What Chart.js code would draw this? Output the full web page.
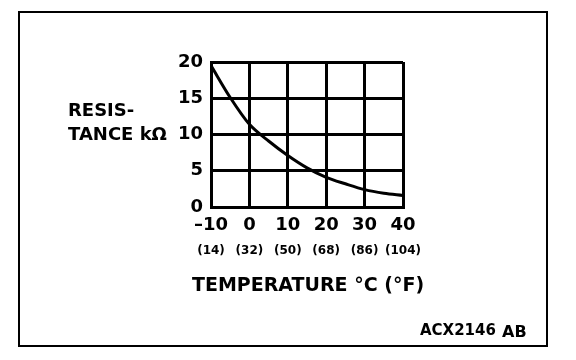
<!DOCTYPE html>
<html>
<head>
<meta charset="utf-8">
<script src="https://cdn.jsdelivr.net/npm/chart.js@4"></script>
<style>
  html, body { margin: 0; padding: 0; background: #fff; }
</style>
</head>
<body>
<canvas id="myChart" width="576" height="360"></canvas>
<script>
// temperature (deg C) and resistance (kOhm)
const tempC = [-10, -5, 0, 5, 10, 15, 20, 25, 30, 35, 40];
const resistance = [19.5, 15.1, 11.4, 9.1, 7.1, 5.4, 4.1, 3.2, 2.4, 1.9, 1.6];

const tickC = [-10, 0, 10, 20, 30, 40];
const xLabelsC = ['\u201310', '0', '10', '20', '30', '40'];
const xLabelsF = ['(14)', '(32)', '(50)', '(68)', '(86)', '(104)'];
const yLabels = ['0', '5', '10', '15', '20'];
const xTitle = 'TEMPERATURE \u00B0C (\u00B0F)';

const fontFam = "'DejaVu Sans', Verdana, sans-serif";

const points = tempC.map((t, i) => ({ x: t, y: resistance[i] }));

// frame, y title, x title and figure code (axis title would get squeezed to the axis width)
const framePlugin = {
    id: 'frame',
    afterDraw(chart) {
        const ctx = chart.ctx;
        const area = chart.chartArea;
        ctx.save();
        ctx.strokeStyle = '#000';
        ctx.lineWidth = 2;
        ctx.strokeRect(19, 12, 528, 334);
        ctx.fillStyle = '#000';
        ctx.textBaseline = 'middle';
        ctx.textAlign = 'left';
        ctx.font = 'bold 18px ' + fontFam;
        ctx.fillText('RESIS-', 68, 111);
        ctx.fillText('TANCE k\u03A9', 68, 135);
        ctx.font = 'bold 15px ' + fontFam;
        ctx.fillText('ACX2146', 420, 331);
        ctx.font = 'bold 16px ' + fontFam;
        ctx.fillText('AB', 502, 333);
        ctx.textAlign = 'center';
        ctx.font = 'bold 19px ' + fontFam;
        ctx.fillText(xTitle, (area.left + area.right) / 2 + 1, 286);
        ctx.restore();
    }
};

var ctx = document.getElementById('myChart').getContext('2d');
var myChart = new Chart(ctx, {
    type: 'line',
    data: {
        datasets: [{
            label: 'Resistance',
            data: points,
            borderColor: '#000',
            backgroundColor: '#000',
            borderWidth: 3,
            fill: false,
            pointRadius: 0,
            cubicInterpolationMode: 'monotone'
        }]
    },
    options: {
        responsive: false,
        animation: false,
        events: [],
        layout: {
            padding: { left: 151, right: 173, top: 62, bottom: 67 }
        },
        plugins: {
            legend: { display: false },
            tooltip: { enabled: false }
        },
        scales: {
            x: {
                type: 'linear',
                position: 'bottom',
                weight: 1,
                min: -10,
                max: 40,
                afterFit: function (s) { s.height = 30; },
                afterBuildTicks: function (s) {
                    s.ticks = tickC.map(v => ({ value: v }));
                },
                grid: { color: '#000', lineWidth: 3, drawTicks: false },
                border: { display: true, color: '#000', width: 3 },
                ticks: {
                    color: '#000',
                    padding: 8,
                    maxRotation: 0,
                    autoSkip: false,
                    font: { family: fontFam, size: 18, weight: 'bold' },
                    callback: function (v, i) { return xLabelsC[i]; }
                }
            },
            xF: {
                type: 'linear',
                position: 'bottom',
                weight: 2,
                min: -10,
                max: 40,
                afterFit: function (s) { s.height = 56; },
                afterBuildTicks: function (s) {
                    s.ticks = tickC.map(v => ({ value: v }));
                },
                grid: { display: false, drawTicks: false },
                border: { display: false },
                ticks: {
                    color: '#000',
                    padding: 7,
                    maxRotation: 0,
                    autoSkip: false,
                    font: { family: fontFam, size: 12, weight: 'bold' },
                    callback: function (v, i) { return xLabelsF[i]; }
                }
            },
            y: {
                type: 'linear',
                min: 0,
                max: 20,
                afterFit: function (s) { s.width = 60; },
                grid: { color: '#000', lineWidth: 3, drawTicks: false },
                border: { display: true, color: '#000', width: 3 },
                ticks: {
                    color: '#000',
                    stepSize: 5,
                    padding: 8,
                    font: { family: fontFam, size: 18, weight: 'bold' },
                    callback: function (v, i) { return yLabels[i]; }
                }
            }
        }
    },
    plugins: [framePlugin]
});
</script>
</body>
</html>
